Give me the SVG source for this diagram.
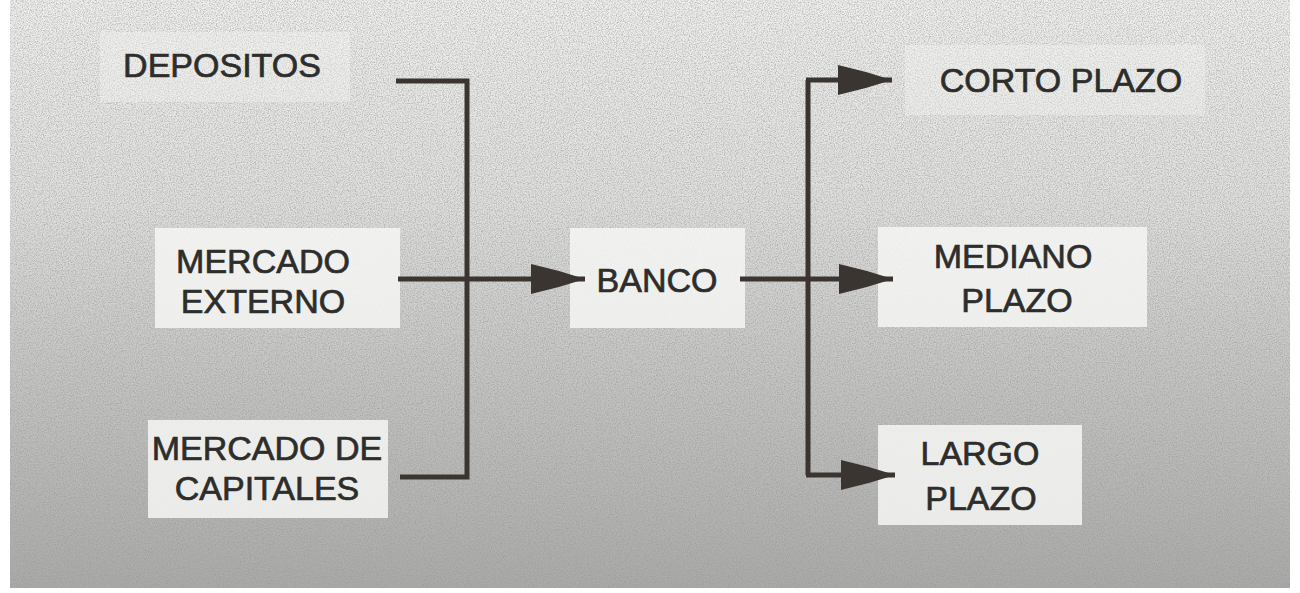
<svg xmlns="http://www.w3.org/2000/svg" width="1300" height="593" viewBox="0 0 1300 593">
  <defs>
    <linearGradient id="bg" x1="0" y1="0" x2="0" y2="1">
      <stop offset="0" stop-color="#efefed"/>
      <stop offset="0.35" stop-color="#dfdfdd"/>
      <stop offset="0.6" stop-color="#c8c8c6"/>
      <stop offset="1" stop-color="#aaaaa8"/>
    </linearGradient>
    <filter id="noise" x="0" y="0" width="100%" height="100%">
      <feTurbulence type="fractalNoise" baseFrequency="0.85" numOctaves="2" seed="3" result="t"/>
      <feColorMatrix type="matrix" values="0 0 0 0 0.3  0 0 0 0 0.3  0 0 0 0 0.3  0 0 0 1.8 -0.7"/>
    </filter>
    <marker id="arrow" markerUnits="userSpaceOnUse" markerWidth="56" markerHeight="32" viewBox="0 0 56 32" refX="55" refY="16" orient="auto">
      <path d="M1,1 Q28,7 55,16 Q28,25 1,31 Z" fill="#3a3531"/>
    </marker>
    <style>
      .box { fill: #f6f6f4; fill-opacity: 0.85; }
      .faint { fill-opacity: 0.35; }
      .lbl { font-family: "Liberation Sans", Arial, sans-serif; font-size: 34px; fill: #2d2d2b; stroke: #2d2d2b; stroke-width: 0.7; text-anchor: middle; }
      .wire { fill: none; stroke: #3a3531; stroke-width: 5; stroke-linejoin: miter; }
    </style>
  </defs>

  <rect x="0" y="0" width="1300" height="593" fill="#ffffff"/>
  <rect x="10" y="0" width="1280" height="588" fill="url(#bg)"/>
  <rect x="10" y="0" width="1280" height="588" filter="url(#noise)" opacity="0.75"/>

  <g id="depositos">
    <rect class="box faint" x="100" y="32" width="250" height="70"/>
    <text class="lbl" x="222" y="77">DEPOSITOS</text>
  </g>
  <g id="mercado-externo">
    <rect class="box" x="155" y="228" width="245" height="100"/>
    <text class="lbl" x="263" y="273">MERCADO</text>
    <text class="lbl" x="263" y="313">EXTERNO</text>
  </g>
  <g id="mercado-capitales">
    <rect class="box" x="148" y="420" width="240" height="98"/>
    <text class="lbl" x="267" y="460">MERCADO DE</text>
    <text class="lbl" x="267" y="500">CAPITALES</text>
  </g>
  <g id="banco">
    <rect class="box" x="570" y="228" width="175" height="100"/>
    <text class="lbl" x="657" y="292">BANCO</text>
  </g>
  <g id="corto-plazo">
    <rect class="box faint" x="905" y="45" width="300" height="70"/>
    <text class="lbl" x="1061" y="92">CORTO PLAZO</text>
  </g>
  <g id="mediano-plazo">
    <rect class="box" x="878" y="227" width="269" height="100"/>
    <text class="lbl" x="1013" y="268">MEDIANO</text>
    <text class="lbl" x="1017" y="312">PLAZO</text>
  </g>
  <g id="largo-plazo">
    <rect class="box" x="878" y="425" width="204" height="100"/>
    <text class="lbl" x="980" y="465">LARGO</text>
    <text class="lbl" x="981" y="510">PLAZO</text>
  </g>

  <g id="connectors">
    <path class="wire" d="M396,81 H467 V477 H400"/>
    <path class="wire" d="M398,279 H585" marker-end="url(#arrow)"/>
    <path class="wire" d="M740,279 H893" marker-end="url(#arrow)"/>
    <path class="wire" d="M808,80 V475"/>
    <path class="wire" d="M806,80 H892" marker-end="url(#arrow)"/>
    <path class="wire" d="M806,475 H895" marker-end="url(#arrow)"/>
  </g>
</svg>
